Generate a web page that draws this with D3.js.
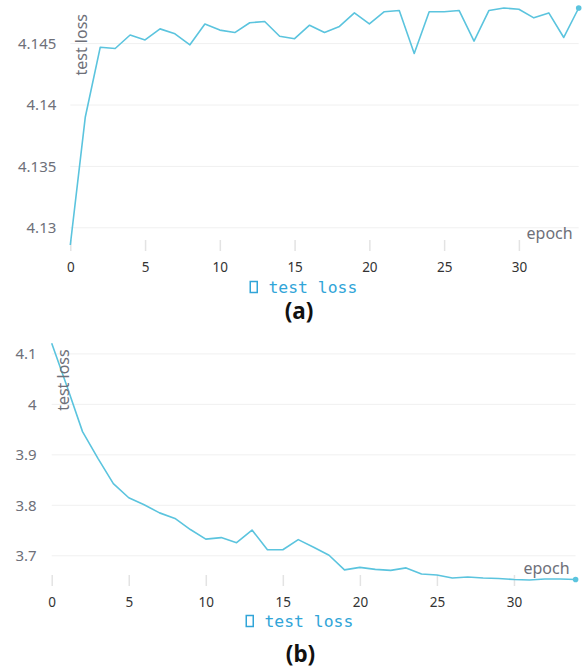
<!DOCTYPE html>
<html>
<head>
<meta charset="utf-8">
<script src="https://cdn.jsdelivr.net/npm/d3@7/dist/d3.min.js"></script>
<style>
  html, body { margin: 0; padding: 0; background: #fff; }
  svg { display: block; }
</style>
</head>
<body>
<svg id="chart" width="584" height="671"></svg>
<script>
// ---- data ----
const epochs = [0,1,2,3,4,5,6,7,8,9,10,11,12,13,14,15,16,17,18,19,20,21,22,23,24,25,26,27,28,29,30,31,32,33,34];
const xTicks = [0,5,10,15,20,25,30];

const lossA = [4.1286, 4.1390, 4.1447, 4.1446, 4.1457, 4.1453, 4.1462, 4.1458, 4.1449, 4.1466,
               4.1461, 4.1459, 4.1467, 4.1468, 4.1456, 4.1454, 4.1465, 4.1459, 4.1464, 4.1475,
               4.1466, 4.1476, 4.1477, 4.1442, 4.1476, 4.1476, 4.1477, 4.1452, 4.1477, 4.1479,
               4.1478, 4.1471, 4.1475, 4.1455, 4.1479];
const yTicksA = [4.13, 4.135, 4.14, 4.145];

const lossB = [4.121, 4.035, 3.946, 3.893, 3.843, 3.815, 3.801, 3.785, 3.774, 3.752,
               3.733, 3.736, 3.726, 3.751, 3.712, 3.712, 3.732, 3.717, 3.701, 3.672,
               3.677, 3.673, 3.671, 3.676, 3.664, 3.662, 3.656, 3.658, 3.656, 3.655,
               3.653, 3.652, 3.654, 3.654, 3.653];
const yTicksB = [3.7, 3.8, 3.9, 4, 4.1];

const seriesName = "test loss";
const xName = "epoch";
const yName = "test loss";
const panelLabels = ["(a)", "(b)"];

// ---- drawing ----
const svg = d3.select("#chart");
svg.append("rect").attr("width", 584).attr("height", 671).attr("fill", "#fff");

const lineColor = "#5bc4de";
const legendColor = "#31a5d8";
const labelGray = "#6e7079";

function drawPanel(opt) {
  const g = svg.append("g");
  const x = d3.scaleLinear().domain([0, 34]).range([opt.left, opt.right]);
  const y = d3.scaleLinear().domain(d3.extent(opt.values)).range([opt.bottom, opt.top]);

  // gridlines
  g.selectAll(".grid").data(opt.yTicks).enter().append("line")
    .attr("x1", opt.left).attr("x2", opt.right)
    .attr("y1", d => y(d)).attr("y2", d => y(d))
    .attr("stroke", "#f0f0f0").attr("stroke-width", 1);

  // y labels
  g.selectAll(".ylab").data(opt.yTicks).enter().append("text")
    .attr("x", opt.left - opt.yLabelGap).attr("y", d => y(d)).attr("dy", "0.36em")
    .attr("text-anchor", "end")
    .attr("font-family", "Noto Sans, Open Sans, sans-serif").attr("font-size", 15)
    .attr("fill", labelGray)
    .text(d => d3.format("~g")(d));

  // x axis ticks + labels via d3 axis
  const xAxis = d3.axisBottom(x).tickValues(xTicks).tickSize(11).tickPadding(11).tickFormat(d3.format("d"));
  const ax = g.append("g").attr("transform", `translate(0,${opt.bottom - 5})`).call(xAxis);
  ax.select(".domain").remove();
  ax.selectAll(".tick line").attr("stroke", "#e3e3e3").attr("stroke-width", 1.5);
  ax.selectAll(".tick text")
    .attr("font-family", "Noto Sans, Open Sans, sans-serif").attr("font-size", 13.5)
    .attr("fill", "#333");

  // line
  const line = d3.line().x((d, i) => x(epochs[i])).y(d => y(d));
  g.append("path").datum(opt.values)
    .attr("d", line).attr("fill", "none")
    .attr("stroke", lineColor).attr("stroke-width", 1.6)
    .attr("stroke-linejoin", "round");

  // end dot
  const last = opt.values.length - 1;
  g.append("circle").attr("cx", x(epochs[last])).attr("cy", y(opt.values[last]))
    .attr("r", 2.8).attr("fill", lineColor);

  // axis names
  g.append("text")
    .attr("transform", `translate(${opt.left + 17},${opt.top + 6}) rotate(-90)`)
    .attr("text-anchor", "end")
    .attr("font-family", "Noto Sans, Open Sans, sans-serif").attr("font-size", 16)
    .attr("fill", labelGray).text(yName);
  g.append("text")
    .attr("x", opt.right - 6).attr("y", opt.bottom - 6)
    .attr("text-anchor", "end")
    .attr("font-family", "Noto Sans, Open Sans, sans-serif").attr("font-size", 16)
    .attr("fill", labelGray).text(xName);

  // legend
  g.append("rect").attr("x", opt.legendX + 0.75).attr("y", opt.legendY - 11.5)
    .attr("width", 7).attr("height", 11).attr("fill", "none")
    .attr("stroke", legendColor).attr("stroke-width", 1.5);
  g.append("text").attr("x", opt.legendX + 19).attr("y", opt.legendY)
    .attr("font-family", "DejaVu Sans Mono, Liberation Mono, monospace").attr("font-size", 16.4)
    .attr("fill", legendColor).text(seriesName);

  // panel label
  g.append("text").attr("x", opt.labelX).attr("y", opt.labelY)
    .attr("text-anchor", "middle")
    .attr("font-family", "Noto Sans, Open Sans, sans-serif").attr("font-size", 22.5)
    .attr("font-weight", "bold").attr("fill", "#111").text(opt.label);
}

drawPanel({ values: lossA, yTicks: yTicksA, left: 70.3, right: 578.7, top: 8, bottom: 245,
            yLabelGap: 14, legendX: 249.5, legendY: 293, labelX: 299, labelY: 319, label: panelLabels[0] });
drawPanel({ values: lossB, yTicks: yTicksB, left: 51.7, right: 575.6, top: 343.3, bottom: 580,
            yLabelGap: 15, legendX: 245.5, legendY: 627, labelX: 300.5, labelY: 662, label: panelLabels[1] });
</script>
</body>
</html>
